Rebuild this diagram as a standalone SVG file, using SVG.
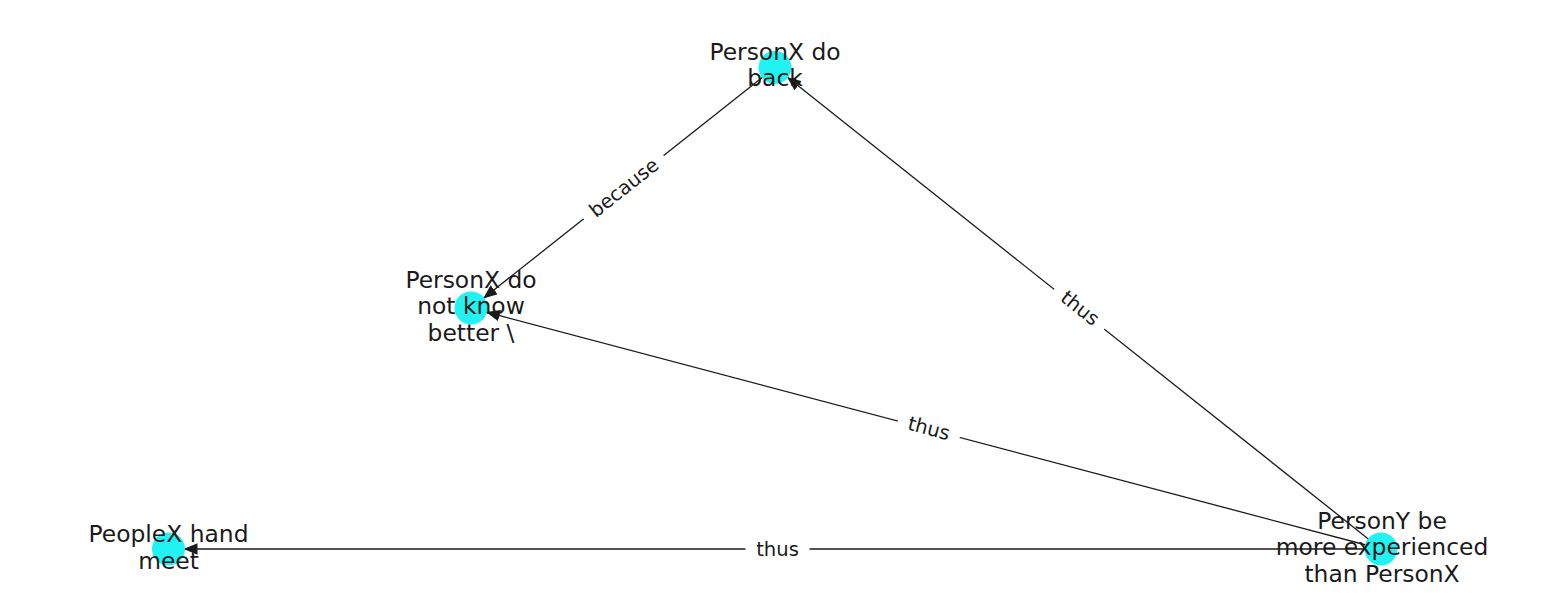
<svg xmlns="http://www.w3.org/2000/svg" width="1550" height="616" viewBox="0 0 1550 616">
  <style>
    .edge { stroke: #1a1a1a; stroke-width: 1.3; fill: none; }
    .node circle { fill: #22f2f2; }
    .node text { font-family: "DejaVu Sans", sans-serif; font-size: 23.4px; fill: #1a1a1a; text-anchor: middle; }
    .elabel rect { fill: #ffffff; }
    .elabel text { font-family: "DejaVu Sans", sans-serif; font-size: 19.6px; fill: #1a1a1a; text-anchor: middle; }
  </style>
  <defs>
    <marker id="arrow" markerUnits="userSpaceOnUse" markerWidth="15" markerHeight="12" refX="14" refY="5.75" orient="auto">
      <path d="M0,0 L14,5.75 L0,11.5 z" fill="#1a1a1a"/>
    </marker>
  </defs>
  <rect width="1550" height="616" fill="#ffffff"/>

  <!-- connectors -->
  <g id="edges">
    <line class="edge" x1="762.8" y1="77.1" x2="483.2" y2="298.4" marker-end="url(#arrow)"/>
    <line class="edge" x1="1368.9" y1="539.4" x2="787.1" y2="77.1" marker-end="url(#arrow)"/>
    <line class="edge" x1="1366.0" y1="545.0" x2="486.0" y2="312.0" marker-end="url(#arrow)"/>
    <line class="edge" x1="1365.5" y1="549" x2="183.5" y2="549" marker-end="url(#arrow)"/>
  </g>

  <!-- edge labels -->
  <g id="edge-labels">
    <g class="elabel" transform="translate(624 187.75) rotate(-38.35)">
      <rect x="-51" y="-14" width="102" height="28" rx="4"/>
      <text x="0" y="6.5">because</text>
    </g>
    <g class="elabel" transform="translate(1080 308.25) rotate(38.47)">
      <rect x="-32" y="-14" width="64" height="28" rx="4"/>
      <text x="0" y="6.5">thus</text>
    </g>
    <g class="elabel" transform="translate(929 428.5) rotate(14.83)">
      <rect x="-32" y="-14" width="64" height="28" rx="4"/>
      <text x="0" y="6.5">thus</text>
    </g>
    <g class="elabel" transform="translate(777.5 549)">
      <rect x="-32" y="-14" width="64" height="28" rx="4"/>
      <text x="0" y="6.5">thus</text>
    </g>
  </g>

  <!-- nodes -->
  <g id="node-persony-experienced" class="node">
    <circle cx="1381" cy="549" r="16.5"/>
    <text x="1382" y="528.5">PersonY be</text>
    <text x="1382" y="555">more experienced</text>
    <text x="1382" y="581.5">than PersonX</text>
  </g>
  <g id="node-personx-do-back" class="node">
    <circle cx="775" cy="67.5" r="16.5"/>
    <text x="775" y="59.5">PersonX do</text>
    <text x="775" y="86">back</text>
  </g>
  <g id="node-personx-not-know" class="node">
    <circle cx="471" cy="308" r="16.5"/>
    <text x="471" y="287.5">PersonX do</text>
    <text x="471" y="314">not know</text>
    <text x="471" y="340.5">better \</text>
  </g>
  <g id="node-peoplex-hand-meet" class="node">
    <circle cx="168.5" cy="549" r="16.5"/>
    <text x="168.5" y="542">PeopleX hand</text>
    <text x="168.5" y="568.5">meet</text>
  </g>
</svg>
